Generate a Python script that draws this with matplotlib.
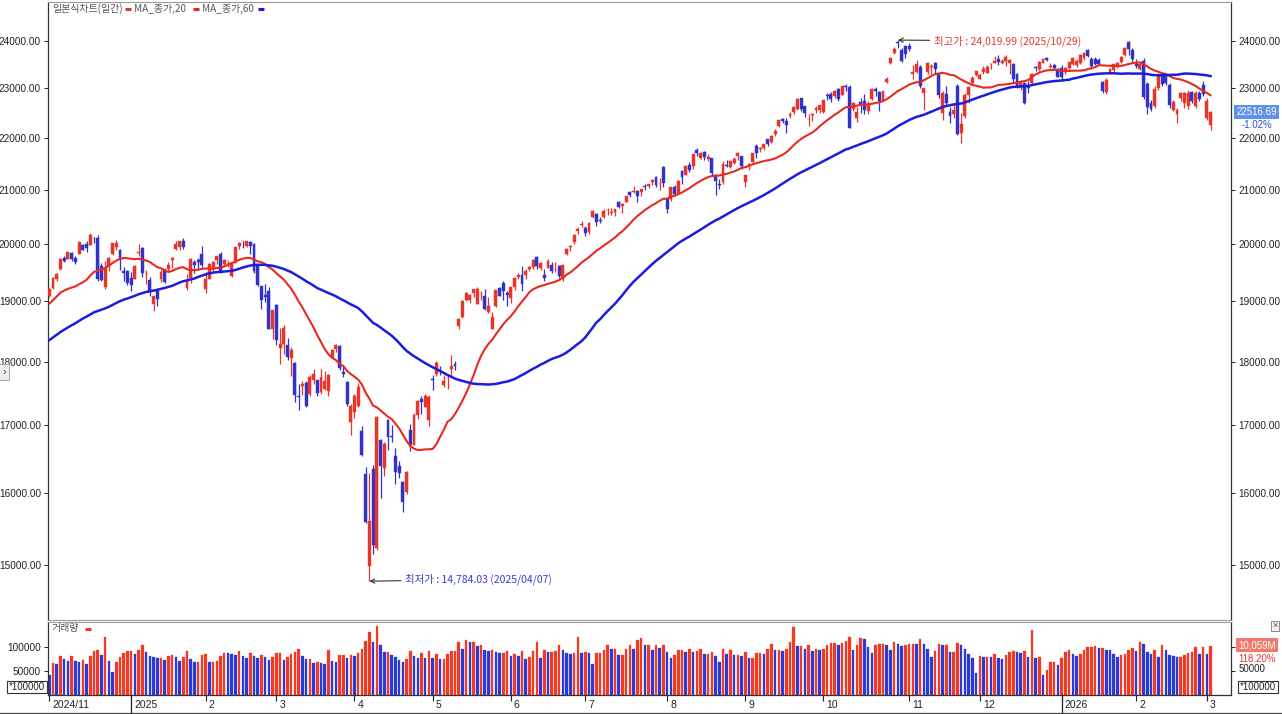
import numpy as np
import matplotlib
matplotlib.use("Agg")
import matplotlib.pyplot as plt
import matplotlib.transforms as mtransforms
from matplotlib.lines import Line2D
from matplotlib.ticker import NullLocator

# ---------------- data ----------------
# closes before the visible window (used only for the moving averages)
pre_closes = [17136, 17084, 17127, 16691, 16885, 17026, 17396, 17570, 17684, 17593, 17628, 17573, 18014, 17948, 17974, 18075, 18082, 18190, 18120, 18189,
              17910, 17925, 17918, 18138, 17923, 18183, 18292, 18282, 18343, 18503, 18316, 18367, 18374, 18490, 18540, 18573, 18277, 18415, 18519, 18567, 18712, 18608, 18095,
              18239, 18180, 18439, 18983, 19269, 19287, 19299, 19281, 19231, 19107, 18680, 18792, 18988, 18967, 19003, 19004, 19055, 19175, 19060]
pre_volume = 60000

opens = [19100,
    19230, 19385, 19560, 19760, 19730, 19840, 19760, 19830, 19990, 20000, 19990, 20120, 20110, 19620, 19240, 19620, 19820, 19960, 19890, 19520, 19530,
    19400, 19395, 19851, 19938, 19469, 19366, 18955, 19178, 19384, 19566, 19570, 19715, 19920, 19946, 20067, 19235, 19411, 19678, 19720, 19833,
    19215, 19385, 19560, 19727, 19820, 19642, 19627, 19437, 19697, 19965, 20063, 19967, 20047, 20006, 19617, 19267, 19113, 19185, 18535,
    18940, 18220, 18292, 18267, 18064, 17981, 17462, 17608, 17654, 17480, 17706, 17705, 17514, 17572, 17531, 18082, 18200, 18260, 17837, 17670, 17054,
    17206, 17298, 16913, 16281, 14985, 16343, 15234, 16786, 16370, 17082, 16834, 16548, 16398, 16166, 16010, 16936, 16708, 17168, 17401, 17279, 17089,
    17720, 17802, 17851, 17628, 17735, 17879, 17969, 18584, 18733, 19033, 19023, 19142, 18965, 19137, 19092, 18822, 18534, 18931, 19230, 19325, 19153,
    19059, 19244, 19427, 19454, 19459, 19561, 19602, 19770, 19577, 19450, 19574, 19624, 19538, 19618, 19405, 19826, 19960, 20049, 20244, 20352,
    20291, 20218, 20487, 20546, 20443, 20490, 20617, 20560, 20585, 20780, 20700, 20780, 20960, 20960, 20980, 20960, 21070, 21080, 21140, 21250, 21130, 21440,
    20820, 20820, 21060, 20950, 21360, 21290, 21470, 21450, 21760, 21600, 21720, 21590, 21600, 21280, 21110, 21140, 21480, 21440, 21510, 21640, 21640,
    21150, 21460, 21540, 21850, 21790, 21810, 21980, 21930, 22080, 22230, 22380, 22340, 22430, 22520, 22580, 22800, 22640, 22370, 22450, 22560, 22560,
    22510, 22870, 22880, 22850, 22990, 22870, 23060, 23040, 22580, 22400, 22730, 22740, 22540, 22780, 22980, 22930, 22760, 23130, 23530, 23750, 23980, 23800, 23900,
    23900, 23300, 23350, 23450, 22900, 23350, 23440, 23540, 23300, 22500, 22880, 22520, 22470, 23050, 22100, 22430, 22860, 23120, 23270,
    23200, 23340, 23330, 23500, 23540, 23620, 23530, 23570, 23530, 23520, 23310, 23020, 23120, 23060, 23110, 23440, 23400, 23540, 23630, 23450, 23480, 23400,
    23420, 23340, 23420, 23500, 23480, 23540, 23640, 23800, 23620, 23620, 23600, 23130, 22920, 23350, 23380, 23440, 23550, 23700, 23980, 23800,
    23500, 23400, 23580, 23100, 22700, 22650, 23000, 23300, 23250, 23080, 22560, 22480, 22800, 22700, 22650, 22920, 22650, 22900, 23080,
    22400, 22250]

highs = [19236,
    19420, 19490, 19750, 19790, 19864, 19870, 19790, 20055, 20010, 20060, 20204, 20140, 20166, 19670, 19700, 19780, 20031, 20070, 19910, 19590, 19540,
    19517, 19638, 20007, 19952, 19542, 19424, 19096, 19224, 19550, 19566, 19676, 19780, 20068, 20054, 20118, 19471, 19753, 19718, 19750, 19967,
    19517, 19668, 19696, 19791, 19863, 19736, 19727, 19689, 19950, 20045, 20066, 20068, 20057, 20016, 19647, 19274, 19308, 19245, 18856,
    18961, 18556, 18599, 18390, 18239, 18000, 17651, 17689, 17690, 17781, 17884, 17708, 17876, 17854, 17804, 18206, 18282, 18278, 17947, 17693, 17333,
    17491, 17660, 16991, 16373, 16292, 16407, 17139, 16799, 16745, 17094, 17012, 16662, 16462, 16168, 16318, 17027, 17184, 17393, 17454, 17481, 17469,
    17781, 18016, 17933, 17787, 17805, 18106, 18015, 18728, 19029, 19159, 19130, 19213, 19241, 19174, 19210, 19081, 18813, 19205, 19251, 19345, 19182,
    19253, 19424, 19494, 19609, 19560, 19620, 19735, 19787, 19676, 19569, 19738, 19678, 19680, 19633, 19632, 19939, 19996, 20187, 20312, 20419,
    20337, 20395, 20624, 20577, 20497, 20650, 20655, 20655, 20650, 20790, 20760, 20890, 20975, 21077, 20990, 21020, 21110, 21110, 21200, 21255, 21230, 21457,
    20840, 21060, 21090, 21180, 21380, 21460, 21540, 21690, 21800, 21730, 21740, 21680, 21610, 21290, 21200, 21550, 21570, 21560, 21620, 21730, 21650,
    21290, 21520, 21710, 21880, 21830, 21890, 21990, 22060, 22180, 22350, 22390, 22400, 22510, 22640, 22800, 22810, 22650, 22480, 22500, 22640, 22670,
    22770, 22900, 22930, 22960, 23000, 23050, 23090, 23070, 22720, 22630, 22800, 22880, 22750, 23000, 23030, 22950, 22950, 23240, 23650, 23870, 24019.99, 23860, 23920,
    23960, 23480, 23590, 23480, 23010, 23560, 23500, 23560, 23320, 22950, 23050, 22630, 22700, 23100, 22500, 22900, 23060, 23250, 23370,
    23320, 23460, 23480, 23530, 23680, 23700, 23620, 23700, 23620, 23530, 23330, 23170, 23140, 23150, 23330, 23470, 23570, 23620, 23660, 23530, 23510, 23420,
    23480, 23450, 23560, 23650, 23620, 23720, 23760, 23830, 23660, 23650, 23640, 23150, 23220, 23430, 23520, 23560, 23680, 23870, 24000, 23850,
    23620, 23560, 23640, 23140, 22760, 23050, 23320, 23340, 23300, 23110, 22760, 22600, 22920, 22930, 22960, 22950, 22950, 22950, 23150,
    22800, 22540]

lows = [19079,
    19210, 19350, 19550, 19690, 19730, 19700, 19650, 19830, 19895, 19860, 19980, 20030, 19360, 19350, 19220, 19520, 19810, 19890, 19540, 19350, 19280,
    19175, 19379, 19785, 19421, 19305, 19088, 18831, 18925, 19336, 19326, 19507, 19582, 19896, 19896, 19920, 19200, 19326, 19494, 19540, 19592,
    19141, 19385, 19502, 19658, 19500, 19616, 19600, 19421, 19668, 19924, 19926, 19956, 19835, 19492, 19266, 18876, 18989, 18540, 18372,
    18280, 17959, 18126, 18031, 17769, 17368, 17242, 17467, 17278, 17462, 17641, 17462, 17487, 17557, 17458, 18056, 18164, 17864, 17754, 17299, 16855,
    17121, 17284, 16547, 15575, 14784.03, 15143, 15207, 15936, 16245, 16629, 16752, 16130, 16222, 15728, 15984, 16613, 16701, 17094, 17172, 17279, 16989,
    17551, 17776, 17780, 17604, 17569, 17777, 17868, 18536, 18728, 19016, 18973, 19081, 18950, 19027, 18850, 18806, 18534, 18900, 19087, 19017, 18930,
    18971, 19195, 19395, 19185, 19390, 19522, 19565, 19562, 19540, 19354, 19574, 19497, 19516, 19400, 19355, 19808, 19884, 20000, 20185, 20320,
    20147, 20190, 20484, 20326, 20380, 20471, 20538, 20530, 20510, 20670, 20570, 20770, 20860, 20950, 20780, 20880, 21000, 21030, 21100, 21050, 21000, 21050,
    20560, 20800, 20880, 20920, 21110, 21280, 21340, 21400, 21650, 21590, 21580, 21560, 21260, 20900, 21010, 21110, 21440, 21420, 21500, 21570, 21390,
    21060, 21380, 21500, 21600, 21730, 21760, 21850, 21900, 22040, 22220, 22290, 22090, 22400, 22480, 22570, 22530, 22420, 22240, 22330, 22500, 22490,
    22490, 22760, 22720, 22810, 22740, 22860, 22950, 22200, 22540, 22320, 22500, 22480, 22480, 22770, 22850, 22550, 22740, 23110, 23510, 23720, 23850, 23560, 23640,
    23780, 23200, 23330, 23020, 22560, 23300, 23300, 23300, 22800, 22350, 22650, 22300, 22400, 22050, 21900, 22400, 22700, 23100, 23260,
    23190, 23300, 23320, 23400, 23530, 23490, 23500, 23460, 23300, 23130, 23000, 22960, 22680, 22900, 23090, 23360, 23370, 23530, 23570, 23420, 23400, 23240,
    23200, 23300, 23400, 23480, 23450, 23520, 23600, 23650, 23400, 23480, 23480, 22900, 22880, 23300, 23350, 23420, 23530, 23680, 23700, 23560,
    23420, 23380, 22780, 22480, 22540, 22600, 22960, 23050, 23080, 22600, 22540, 22300, 22750, 22600, 22580, 22700, 22600, 22750, 22850,
    22350, 22150]

closes = [19218,
    19403, 19480, 19735, 19700, 19860, 19736, 19687, 20034, 19902, 19926, 20173, 20109, 19393, 19372, 19573, 19764, 20031, 20020, 19722, 19487, 19311,
    19280, 19622, 19865, 19490, 19479, 19162, 19088, 19044, 19511, 19339, 19630, 19757, 20010, 20053, 19954, 19342, 19734, 19633, 19681, 19627,
    19392, 19654, 19692, 19791, 19523, 19714, 19643, 19650, 19945, 20026, 20056, 20056, 19962, 19524, 19287, 19026, 19075, 18544, 18847,
    18350, 18286, 18553, 18070, 18196, 17468, 17436, 17648, 17303, 17754, 17808, 17504, 17751, 17692, 17784, 18189, 18272, 17900, 17804, 17323, 17299,
    17450, 17601, 16551, 15588, 15603, 15268, 17125, 16387, 16724, 16832, 16823, 16307, 16287, 15870, 16300, 16708, 17166, 17383, 17366, 17461, 17446,
    17711, 17978, 17844, 17690, 17738, 17929, 17929, 18708, 19010, 19146, 19112, 19211, 19215, 19143, 18873, 18925, 18737, 19199, 19101, 19175, 19114,
    19243, 19399, 19460, 19298, 19530, 19591, 19715, 19615, 19662, 19407, 19701, 19521, 19546, 19447, 19631, 19913, 19973, 20168, 20273, 20370,
    20202, 20393, 20601, 20412, 20419, 20611, 20630, 20586, 20640, 20677, 20730, 20885, 20896, 20974, 20892, 21020, 21057, 21108, 21179, 21098, 21130, 21122,
    20650, 21053, 20916, 21169, 21243, 21450, 21385, 21682, 21713, 21711, 21623, 21630, 21315, 21172, 21100, 21497, 21449, 21544, 21590, 21705, 21456,
    21280, 21498, 21707, 21700, 21798, 21879, 21886, 22043, 22141, 22349, 22333, 22261, 22470, 22631, 22789, 22574, 22497, 22384, 22484, 22591, 22660,
    22755, 22844, 22780, 22941, 22788, 23043, 23024, 22204, 22695, 22521, 22670, 22562, 22680, 22991, 22953, 22740, 22942, 23205, 23637, 23827, 23958, 23581, 23725,
    23835, 23349, 23500, 23054, 23005, 23528, 23468, 23406, 22871, 22900, 22709, 22433, 22564, 22078, 22273, 22872, 23026, 23215, 23366,
    23276, 23414, 23454, 23506, 23578, 23546, 23576, 23654, 23594, 23195, 23057, 23111, 22693, 23006, 23307, 23428, 23562, 23613, 23593, 23474, 23419, 23242,
    23240, 23430, 23550, 23630, 23580, 23700, 23740, 23680, 23470, 23520, 23510, 22950, 23180, 23400, 23500, 23540, 23660, 23850, 23820, 23620,
    23460, 23520, 22830, 22620, 22580, 22980, 23250, 23100, 23120, 22660, 22730, 22560, 22900, 22900, 22900, 22740, 22900, 22780, 22880,
    22749, 22516.69]

volumes = [40470, 65320, 63190, 81650, 74550, 71000, 81650, 70290, 68870, 72420,
    63900, 81650, 90170, 93720, 83070, 119280, 71000, 48280, 67450, 79520,
    87330, 90880, 91590, 85200, 93720, 104370, 88750, 81650, 78100, 75970,
    77390, 73130, 81650, 83070, 78100, 71000, 79520, 90880, 74550, 68870,
    68870, 83070, 85200, 67450, 68870, 69580, 81650, 87330, 85910, 84490,
    83070, 90880, 81650, 76680, 87330, 81650, 76680, 83070, 79520, 73130,
    79520, 85910, 87330, 73130, 79520, 83780, 88750, 94430, 81650, 74550,
    74550, 65320, 67450, 65320, 63900, 92300, 70290, 67450, 83070, 83070,
    75970, 83070, 81650, 87330, 95850, 111470, 129930, 108630, 142710, 104370,
    88040, 88750, 83070, 78810, 72420, 67450, 74550, 90880, 80230, 75970,
    87330, 75970, 90880, 75970, 85200, 74550, 74550, 85200, 90170, 90880,
    110050, 95850, 113600, 110050, 110050, 101530, 104370, 92300, 90880, 92300,
    88750, 87330, 87330, 90170, 80230, 85200, 81650, 90170, 74550, 78100,
    90170, 110050, 75970, 93010, 88750, 88750, 91590, 102950, 92300, 85910,
    83780, 85910, 120700, 85910, 88040, 86620, 63900, 86620, 87330, 92300,
    102950, 94430, 95850, 83070, 83070, 95850, 102950, 95850, 113600,
    117150, 104370, 104370, 92300, 104370, 97980, 104370, 88750, 75970, 83070,
    92300, 92300, 88750, 94430, 88750, 90880, 94430, 85200, 85200, 88750,
    81650, 68870, 95850, 85200, 92300, 83070, 83070, 80230, 88750, 76680,
    76680, 87330, 87330, 85200, 94430, 106500, 92300, 92300, 90170, 95850,
    108630, 140580, 101530, 101530, 95850, 102950, 90170, 94430, 92300, 95850,
    104370, 107920, 107920, 104370, 107920, 111470, 120700, 93720, 102950, 117150,
    115730, 99400, 87330, 104370, 106500, 106500, 102950, 92300, 110050, 106500,
    101530, 102950, 105080, 106500, 105080, 115730, 106500, 95850, 79520, 90170,
    106500, 102950, 102950, 88750, 88750, 107920, 102950, 95850, 85200, 75970,
    46150, 81650, 78100, 79520, 78100, 85200, 75970, 74550, 83070, 88750,
    90170, 88750, 87330, 90170, 78100, 134900, 75970, 78100, 40470, 51830,
    67450, 67450, 61770, 75970, 88750, 92300, 85200, 80230, 85200, 92300,
    99400, 99400, 101530, 97270, 97270, 93720, 92300, 85200, 78100, 83070,
    85200, 92300, 97270, 90170, 110050, 105080, 88750, 85200, 92300, 78100,
    104370, 92300, 83070, 81650, 78100, 79520, 83070, 86620, 88750, 99400,
    85200, 99400, 85200, 100590]

month_labels = ['2024/11', '2025', '2', '3', '4', '5', '6', '7', '8', '9', '10', '11', '12', '2026', '2', '3']
month_start = [0, 22, 42, 61, 82, 103, 124, 144, 166, 187, 208, 231, 250, 272, 292, 311]
year_marks = [22, 272]
price_ticks = [15000, 16000, 17000, 18000, 19000, 20000, 21000, 22000, 23000, 24000]

# ---------------- styling ----------------
RED = '#e6362b'
BLUE = '#3232c6'
MA20_C = '#e82a1e'
MA60_C = '#1c1ce0'
VRED = '#f03a26'
VBLUE = '#2a3ad6'
KFONT = ['Noto Sans CJK KR', 'DejaVu Sans']
NFONT = 'Liberation Sans'

o = np.array(opens, float); h = np.array(highs, float)
l = np.array(lows, float); c = np.array(closes, float)
v = np.array(volumes, float)
n = len(c)
x = np.arange(n)

allc = np.concatenate([np.array(pre_closes, float), c])
def sma(a, w):
    out = np.convolve(a, np.ones(w) / w, mode='valid')
    return out[-n:]
ma20 = sma(allc, 20)
ma60 = sma(allc, 60)

W, H = 1282, 714
fig = plt.figure(figsize=(W / 100, H / 100), dpi=100)
fig.patch.set_facecolor('white')

def fx(px): return px / W
def fy(py): return 1 - py / H

LEFT, RIGHT = 48, 1231
ax = fig.add_axes([fx(LEFT), fy(620), (RIGHT - LEFT) / W, (620 - 2) / H])
axv = fig.add_axes([fx(LEFT), fy(695), (RIGHT - LEFT) / W, (695 - 622) / H])

# ---- price panel ----
up = c >= o
ccol = np.where(up, RED, BLUE)
ax.vlines(x, l, h, colors=ccol, linewidth=0.9, zorder=2)
body_lo = np.minimum(o, c)
body_h = np.maximum(np.abs(c - o), 8)
ax.bar(x, body_h, bottom=body_lo, width=0.78, color=ccol, edgecolor=ccol, linewidth=0.3, zorder=3)
ax.plot(x, ma20, color=MA20_C, lw=1.5, zorder=4)
ax.plot(x, ma60, color=MA60_C, lw=1.8, zorder=4)

ax.set_yscale('log')
ax.set_ylim(14278, 24855)
ax.set_xlim(-0.35, 317.5)
ax.yaxis.set_minor_locator(NullLocator())
ax.set_yticks(price_ticks)
ax.set_yticklabels([f"{t:.2f}" for t in price_ticks])
ax.tick_params(axis='y', which='major', left=True, right=True, labelleft=True, labelright=True,
               length=3, width=0.7, pad=2, labelsize=7.2, colors='#222222')
for t in ax.get_yticklabels():
    t.set_fontfamily(NFONT)
ax.set_xticks([])
for s in ['left', 'right']:
    ax.spines[s].set_color('#333333'); ax.spines[s].set_linewidth(0.9)
for s in ['top', 'bottom']:
    ax.spines[s].set_color('#9a9a9a'); ax.spines[s].set_linewidth(0.8)

# annotations
ax.annotate('최고가 : 24,019.99 (2025/10/29)', xy=(228, highs[228]), xytext=(237.6, highs[228] * 0.9993),
            fontsize=7.5, family=KFONT, color=RED, ha='left', va='center',
            arrowprops=dict(arrowstyle='->', color='#333333', lw=0.8, shrinkA=1, shrinkB=0))
ax.annotate('최저가 : 14,784.03 (2025/04/07)', xy=(86, lows[86]), xytext=(95.6, lows[86] * 1.0015),
            fontsize=7.5, family=KFONT, color='#3a3ad0', ha='left', va='center',
            arrowprops=dict(arrowstyle='->', color='#333333', lw=0.8, shrinkA=1, shrinkB=0))

# ---- volume panel ----
prev = np.concatenate([[pre_volume], v[:-1]])
vcol = np.where(v >= prev, VRED, VBLUE)
axv.bar(x, v, width=0.68, color=vcol, edgecolor=vcol, linewidth=0.2)
axv.set_xlim(-0.35, 317.5)
axv.set_ylim(0, 151000)
axv.set_yticks([50000, 100000])
axv.set_yticklabels(['50000', '100000'])
axv.tick_params(axis='y', left=True, right=True, labelleft=True, labelright=False,
                length=3, width=0.7, pad=2, labelsize=7.2, colors='#222222')
for t in axv.get_yticklabels():
    t.set_fontfamily(NFONT)
axv.set_xticks(month_start)
axv.set_xticklabels([])
axv.tick_params(axis='x', length=4, width=0.8, colors='#222222')
for s in ['left', 'right', 'bottom']:
    axv.spines[s].set_color('#333333'); axv.spines[s].set_linewidth(0.9)
axv.spines['top'].set_color('#9a9a9a'); axv.spines['top'].set_linewidth(0.8)

# month labels
bt = mtransforms.blended_transform_factory(axv.transData, fig.transFigure)
bt_off = mtransforms.offset_copy(bt, fig=fig, x=3, y=0, units='dots')
for i, lab in zip(month_start, month_labels):
    fig.text(i, fy(705), lab, transform=bt_off, fontsize=7.5, family=NFONT,
             color='#222222', ha='left', va='center')
for i in year_marks:
    fig.add_artist(Line2D([i, i], [fy(695), fy(713)], transform=bt, color='#222222', lw=0.9))
fig.add_artist(Line2D([0, 1], [fy(712.5), fy(712.5)], transform=fig.transFigure, color='#444444', lw=0.9))

# ---- legends / labels ----
def dash(px, py, col, w=6):
    fig.add_artist(Line2D([fx(px), fx(px + w)], [fy(py), fy(py)], transform=fig.transFigure,
                          color=col, lw=2.2, solid_capstyle='butt'))

fig.text(fx(52), fy(8.5), '일본식차트(일간)', fontsize=7.2, family=KFONT, color='#555555', ha='left', va='center')
dash(125, 9, RED)
fig.text(fx(134), fy(8.5), 'MA_종가,20', fontsize=7.2, family=KFONT, color='#555555', ha='left', va='center')
dash(193, 9, MA20_C)
fig.text(fx(202), fy(8.5), 'MA_종가,60', fontsize=7.2, family=KFONT, color='#555555', ha='left', va='center')
dash(258, 9, MA60_C)

fig.text(fx(52), fy(628), '거래량', fontsize=7.2, family=KFONT, color='#555555', ha='left', va='center')
dash(85, 628.5, VRED)

# current price box
fig.text(fx(1256.5), fy(112), '22516.69', fontsize=7, family=NFONT, color='white', ha='center', va='center',
         bbox=dict(boxstyle='square,pad=0.18', facecolor='#5d92e6', edgecolor='none'))
fig.text(fx(1256.5), fy(125.5), '-1.02%', fontsize=7, family=NFONT, color='#2a50d0', ha='center', va='center')

# volume right side labels
fig.text(fx(1257), fy(645), '10,059M', fontsize=7, family=NFONT, color='white', ha='center', va='center',
         bbox=dict(boxstyle='square,pad=0.2', facecolor='#f27a6c', edgecolor='none'))
fig.text(fx(1257), fy(659), '118.20%', fontsize=7, family=NFONT, color=RED, ha='center', va='center')
fig.text(fx(1239), fy(669.5), '50000', fontsize=7, family=NFONT, color='#222222', ha='left', va='center')
fig.text(fx(1258), fy(687), '*100000', fontsize=7, family=NFONT, color='#222222', ha='center', va='center',
         bbox=dict(boxstyle='square,pad=0.15', facecolor='white', edgecolor='#333333', lw=0.8))
fig.text(fx(27), fy(687), '*100000', fontsize=7, family=NFONT, color='#222222', ha='center', va='center',
         bbox=dict(boxstyle='square,pad=0.15', facecolor='white', edgecolor='#333333', lw=0.8))
fig.text(fx(1275), fy(626), '×', fontsize=6.5, family=NFONT, color='#444444', ha='center', va='center',
         bbox=dict(boxstyle='square,pad=0.1', facecolor='#f2f2f2', edgecolor='#777777', lw=0.6))

# small side tab at left
fig.text(fx(4), fy(372), '›', fontsize=8, family=NFONT, color='#444444', ha='center', va='center',
         bbox=dict(boxstyle='square,pad=0.25', facecolor='#eeeeee', edgecolor='#999999', lw=0.6))

fig.savefig('out.png', dpi=100, facecolor='white')
